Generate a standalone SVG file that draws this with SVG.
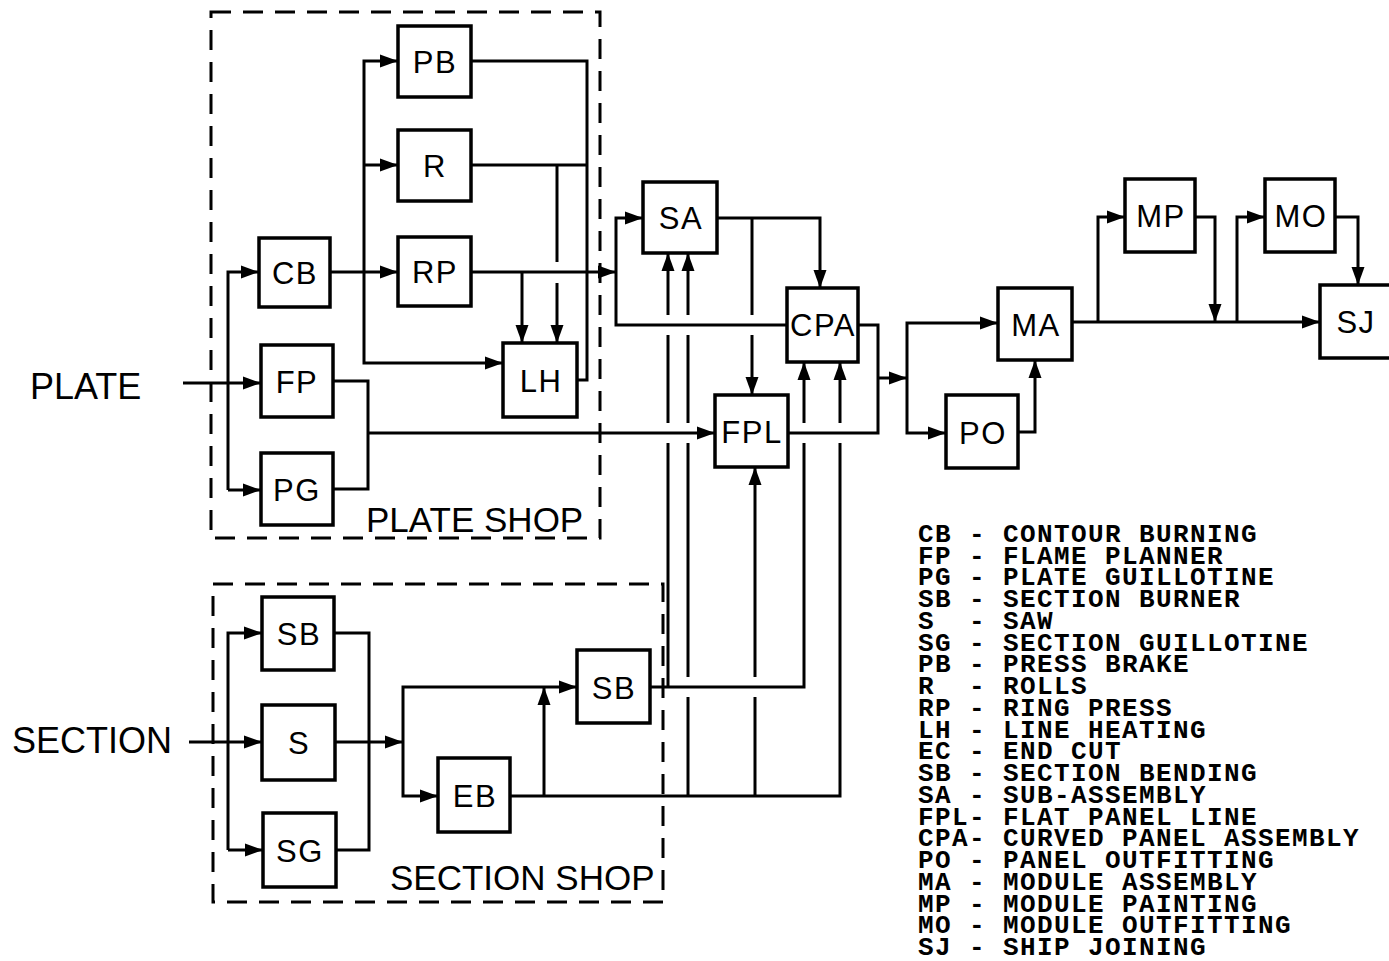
<svg xmlns="http://www.w3.org/2000/svg" width="1389" height="961" viewBox="0 0 1389 961">
<style>
.box{fill:#fff;stroke:#000;stroke-width:3.5}
.lbl{font-family:"Liberation Sans",Arial,sans-serif;font-size:31px;letter-spacing:1.5px;text-anchor:middle;fill:#000}
.big{font-family:"Liberation Sans",Arial,sans-serif;font-size:36px;fill:#000}
.shop{font-family:"Liberation Sans",Arial,sans-serif;font-size:35px;fill:#000}
.dash{fill:none;stroke:#000;stroke-width:3;stroke-dasharray:20 12}
.c path{fill:none;stroke:#000;stroke-width:3}
.leg text{font-family:"Liberation Mono","DejaVu Sans Mono",monospace;font-size:26px;letter-spacing:1.4px;font-weight:bold;fill:#000;white-space:pre}
</style>
<defs>
<marker id="a" markerUnits="userSpaceOnUse" markerWidth="19" markerHeight="15" refX="18" refY="7.5" orient="auto">
<path d="M0,1 L18,7.5 L0,14 z" fill="#000"/>
</marker>
</defs>
<rect width="1389" height="961" fill="#fff"/>

<g id="plate-shop">
<rect class="dash" x="211" y="12" width="389" height="526"/>
<text class="shop" x="366" y="532">PLATE SHOP</text>
</g>
<g id="section-shop">
<rect class="dash" x="213" y="584" width="450" height="318"/>
<text class="shop" x="390" y="890">SECTION SHOP</text>
</g>

<g id="inputs">
<text class="big" x="30" y="399">PLATE</text>
<text class="big" x="12" y="753">SECTION</text>
</g>

<g class="c" id="connectors">
<path d="M183,383 H261" marker-end="url(#a)"/>
<path d="M228,490 V272 H259" marker-end="url(#a)"/>
<path d="M228,490 H261" marker-end="url(#a)"/>
<path d="M330,272 H398" marker-end="url(#a)"/>
<path d="M364,272 V61 H398" marker-end="url(#a)"/>
<path d="M364,165 H398" marker-end="url(#a)"/>
<path d="M364,272 V363 H503" marker-end="url(#a)"/>
<path d="M471,61 H587 V380 H577"/>
<path d="M471,165 H587"/>
<path d="M557,165 V262"/>
<path d="M557,283 V343" marker-end="url(#a)"/>
<path d="M471,272 H616" marker-end="url(#a)"/>
<path d="M522,272 V343" marker-end="url(#a)"/>
<path d="M333,381 H368 V489 H333"/>
<path d="M368,433 H715" marker-end="url(#a)"/>

<path d="M787,325 H616 V218 H643" marker-end="url(#a)"/>
<path d="M717,218 H820 V288" marker-end="url(#a)"/>
<path d="M752,218 V315"/>
<path d="M752,335 V395" marker-end="url(#a)"/>
<path d="M858,325 H878 V433 H788"/>
<path d="M878,378 H907" marker-end="url(#a)"/>
<path d="M907,378 V323 H998" marker-end="url(#a)"/>
<path d="M907,378 V433 H946" marker-end="url(#a)"/>

<path d="M189,742 H262" marker-end="url(#a)"/>
<path d="M228,850 V633 H262" marker-end="url(#a)"/>
<path d="M228,850 H263" marker-end="url(#a)"/>
<path d="M334,633 H369 V850 H336"/>
<path d="M335,742 H403" marker-end="url(#a)"/>
<path d="M403,742 V687 H577" marker-end="url(#a)"/>
<path d="M403,742 V796 H438" marker-end="url(#a)"/>
<path d="M510,796 H840 V443"/>
<path d="M840,423 V362" marker-end="url(#a)"/>
<path d="M544,796 V687" marker-end="url(#a)"/>
<path d="M650,687 H804 V443"/>
<path d="M804,423 V362" marker-end="url(#a)"/>
<path d="M668,687 V443"/>
<path d="M668,423 V335"/>
<path d="M668,315 V253" marker-end="url(#a)"/>
<path d="M688,796 V697"/>
<path d="M688,677 V443"/>
<path d="M688,423 V335"/>
<path d="M688,315 V253" marker-end="url(#a)"/>
<path d="M755,796 V697"/>
<path d="M755,677 V467" marker-end="url(#a)"/>

<path d="M1018,432 H1035 V360" marker-end="url(#a)"/>
<path d="M1072,322 H1320" marker-end="url(#a)"/>
<path d="M1098,322 V217 H1125" marker-end="url(#a)"/>
<path d="M1195,217 H1215 V322" marker-end="url(#a)"/>
<path d="M1237,322 V217 H1265" marker-end="url(#a)"/>
<path d="M1335,217 H1358 V285" marker-end="url(#a)"/>
</g>

<g id="CB"><rect class="box" x="259" y="238" width="71" height="69"/><text class="lbl" x="295" y="284">CB</text></g>
<g id="FP"><rect class="box" x="261" y="345" width="72" height="72"/><text class="lbl" x="297" y="393">FP</text></g>
<g id="PG"><rect class="box" x="261" y="453" width="72" height="72"/><text class="lbl" x="297" y="501">PG</text></g>
<g id="PB"><rect class="box" x="398" y="26" width="73" height="71"/><text class="lbl" x="435" y="73">PB</text></g>
<g id="R"><rect class="box" x="398" y="130" width="73" height="71"/><text class="lbl" x="435" y="177">R</text></g>
<g id="RP"><rect class="box" x="398" y="237" width="73" height="69"/><text class="lbl" x="435" y="283">RP</text></g>
<g id="LH"><rect class="box" x="503" y="343" width="74" height="74"/><text class="lbl" x="541" y="392">LH</text></g>

<g id="SB1"><rect class="box" x="262" y="597" width="72" height="73"/><text class="lbl" x="299" y="645">SB</text></g>
<g id="S"><rect class="box" x="262" y="705" width="73" height="75"/><text class="lbl" x="299" y="754">S</text></g>
<g id="SG"><rect class="box" x="263" y="813" width="73" height="74"/><text class="lbl" x="300" y="862">SG</text></g>
<g id="EB"><rect class="box" x="438" y="758" width="72" height="74"/><text class="lbl" x="475" y="807">EB</text></g>
<g id="SB2"><rect class="box" x="577" y="650" width="73" height="73"/><text class="lbl" x="614" y="699">SB</text></g>

<g id="SA"><rect class="box" x="643" y="182" width="74" height="71"/><text class="lbl" x="681" y="229">SA</text></g>
<g id="CPA"><rect class="box" x="787" y="288" width="71" height="74"/><text class="lbl" x="823" y="336">CPA</text></g>
<g id="FPL"><rect class="box" x="715" y="395" width="73" height="72"/><text class="lbl" x="752" y="443">FPL</text></g>

<g id="MA"><rect class="box" x="998" y="288" width="74" height="72"/><text class="lbl" x="1036" y="336">MA</text></g>
<g id="PO"><rect class="box" x="946" y="395" width="72" height="73"/><text class="lbl" x="983" y="444">PO</text></g>
<g id="MP"><rect class="box" x="1125" y="179" width="70" height="73"/><text class="lbl" x="1161" y="227">MP</text></g>
<g id="MO"><rect class="box" x="1265" y="179" width="70" height="73"/><text class="lbl" x="1301" y="227">MO</text></g>
<g id="SJ"><rect class="box" x="1320" y="285" width="80" height="73"/><text class="lbl" x="1356" y="333">SJ</text></g>

<g id="legend" class="leg">
<text xml:space="preserve" x="918" y="542">CB - CONTOUR BURNING</text>
<text xml:space="preserve" x="918" y="564">FP - FLAME PLANNER</text>
<text xml:space="preserve" x="918" y="585">PG - PLATE GUILLOTINE</text>
<text xml:space="preserve" x="918" y="607">SB - SECTION BURNER</text>
<text xml:space="preserve" x="918" y="629">S  - SAW</text>
<text xml:space="preserve" x="918" y="651">SG - SECTION GUILLOTINE</text>
<text xml:space="preserve" x="918" y="672">PB - PRESS BRAKE</text>
<text xml:space="preserve" x="918" y="694">R  - ROLLS</text>
<text xml:space="preserve" x="918" y="716">RP - RING PRESS</text>
<text xml:space="preserve" x="918" y="738">LH - LINE HEATING</text>
<text xml:space="preserve" x="918" y="759">EC - END CUT</text>
<text xml:space="preserve" x="918" y="781">SB - SECTION BENDING</text>
<text xml:space="preserve" x="918" y="803">SA - SUB-ASSEMBLY</text>
<text xml:space="preserve" x="918" y="825">FPL- FLAT PANEL LINE</text>
<text xml:space="preserve" x="918" y="846">CPA- CURVED PANEL ASSEMBLY</text>
<text xml:space="preserve" x="918" y="868">PO - PANEL OUTFITTING</text>
<text xml:space="preserve" x="918" y="890">MA - MODULE ASSEMBLY</text>
<text xml:space="preserve" x="918" y="912">MP - MODULE PAINTING</text>
<text xml:space="preserve" x="918" y="933">MO - MODULE OUTFITTING</text>
<text xml:space="preserve" x="918" y="955">SJ - SHIP JOINING</text>
</g>
</svg>
